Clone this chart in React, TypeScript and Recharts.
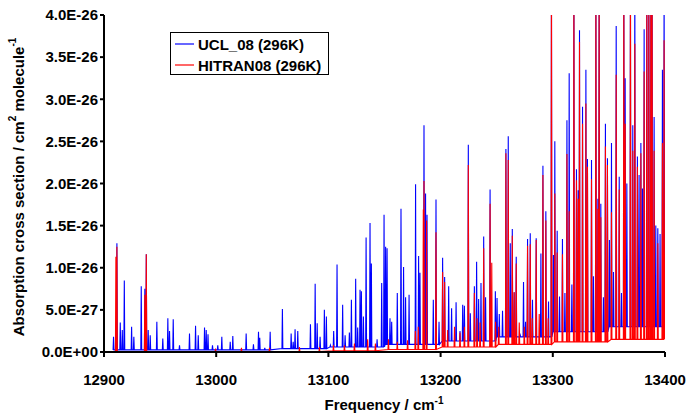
import { LineChart, Line, XAxis, YAxis, Label } from 'recharts';

const xTicks = [12900, 13000, 13100, 13200, 13300, 13400];
// y values are in units of 1E-27 cm^2 molecule^-1
const yTicks = [0, 5, 10, 15, 20, 25, 30, 35, 40];

const uclFreq = [
  12908.5, 12911.5, 12914.5, 12916.3, 12918.1, 12924.6, 12926.6, 12933.2, 12936.4, 12937.7,
  12939.4, 12941.2, 12947.1, 12952.4, 12956.9, 12958.4, 12961.7, 12967.3, 12976.2, 12981.6,
  12984.0, 12989.6, 12991.1, 12992.7, 12996.7, 13001.4, 13005.0, 13012.5, 13014.8, 13026.7,
  13033.2, 13037.7, 13038.8, 13043.3, 13048.1, 13059.0, 13066.8, 13068.6, 13070.3, 13072.7,
  13084.0, 13088.2, 13090.0, 13092.6, 13096.4, 13098.2, 13101.8, 13104.7, 13107.7, 13112.7,
  13114.9, 13118.7, 13120.5, 13124.3, 13126.1, 13128.2, 13129.4, 13131.2, 13133.6, 13137.1,
  13138.3, 13143.4, 13147.5, 13149.6, 13151.0, 13152.3, 13154.9, 13156.4, 13161.4, 13164.7,
  13167.0, 13168.8, 13171.9, 13177.7, 13180.4, 13181.6, 13185.2, 13186.6, 13187.9, 13193.5,
  13195.9, 13198.6, 13201.8, 13203.6, 13207.2, 13209.8, 13213.8, 13217.3, 13219.7, 13221.2,
  13224.7, 13226.5, 13230.1, 13232.1, 13233.9, 13236.0, 13238.4, 13240.1, 13244.1, 13248.8,
  13250.3, 13252.3, 13255.2, 13258.2, 13260.3, 13262.1, 13263.9, 13265.6, 13267.4, 13271.0,
  13273.9, 13275.7, 13277.5, 13279.9, 13281.9, 13285.2, 13289.4, 13291.2, 13293.8, 13296.2,
  13298.8, 13300.6, 13301.8, 13303.9, 13306.0, 13308.6, 13310.8, 13312.6, 13314.6, 13317.0,
  13318.8, 13321.1, 13322.6, 13323.8, 13326.5, 13329.5, 13330.9, 13334.5, 13336.2, 13338.4,
  13340.2, 13341.3, 13342.8, 13345.1, 13346.9, 13348.7, 13350.5, 13352.3, 13354.1, 13356.5,
  13359.2, 13361.2, 13363.3, 13364.5, 13366.0, 13369.2, 13371.3, 13373.1, 13375.4, 13376.9,
  13378.5, 13379.9, 13381.4, 13383.8, 13385.6, 13387.4, 13388.5, 13390.3, 13391.8, 13393.6,
  13395.6, 13397.7, 13399.2,
];
const uclPeak = [
  1.8, 12.9, 3.5, 2.6, 8.5, 3.0, 1.8, 7.8, 7.5, 11.6,
  2.6, 2.0, 3.6, 1.6, 4.0, 2.5, 3.9, 0.8, 2.2, 3.1,
  2.0, 2.9, 2.6, 2.1, 0.8, 0.8, 1.8, 1.2, 1.9, 2.2,
  0.9, 2.4, 1.7, 0.5, 2.4, 5.1, 2.2, 1.2, 2.7, 2.5,
  3.3, 8.1, 3.4, 1.8, 5.0, 4.2, 0.8, 2.5, 10.4, 5.6,
  2.0, 2.3, 6.2, 8.7, 2.9, 7.4, 7.2, 4.2, 13.6, 15.3,
  10.5, 1.5, 8.2, 16.3, 12.5, 12.3, 4.0, 3.6, 7.0, 17.0,
  10.1, 6.5, 6.8, 19.9, 11.4, 9.4, 26.9, 18.8, 16.3, 6.2,
  18.1, 3.6, 11.2, 8.9, 7.8, 5.2, 5.9, 2.5, 5.6, 5.5,
  24.6, 4.6, 7.8, 10.7, 6.3, 8.2, 13.7, 6.5, 19.3, 7.2,
  6.4, 4.5, 4.9, 24.1, 25.6, 12.9, 14.6, 7.1, 11.3, 2.0,
  8.3, 3.6, 13.4, 14.1, 6.2, 13.5, 11.7, 22.1, 16.7, 6.0,
  45, 11.5, 25.0, 14.4, 6.6, 13.4, 7.0, 27.5, 33.1, 8.0,
  45, 21.7, 19.2, 38.2, 29.1, 33.5, 22.9, 22.8, 9.0, 45,
  18.2, 45, 17.6, 6.5, 27.1, 23.0, 13.3, 24.8, 9.5, 38.7,
  20.8, 7.0, 45, 32.5, 20.0, 45, 26.9, 45, 23.2, 21.0,
  24.8, 19.4, 38.3, 45, 45, 45, 45, 27.9, 15.0, 14.7,
  14.0, 33.5, 45,
];
// baseline level between lines, read per region: [from frequency, level]
const uclFloorFrom = [12900, 13050, 13100, 13150, 13200, 13250, 13300, 13350];
const uclFloor = [0.25, 0.4, 0.6, 0.9, 1.3, 1.8, 2.4, 3.0];

const hitFreq = [
  12910.6, 12911.5, 12936.4, 12937.7, 12999.4, 13022.5, 13047.5, 13074.2, 13092.0, 13104.5,
  13114.3, 13123.2, 13135.0, 13141.9, 13153.5, 13161.4, 13170.6, 13177.5, 13180.1, 13184.6,
  13185.2, 13187.5, 13195.9, 13201.8, 13203.6, 13206.3, 13212.4, 13217.3, 13221.2, 13224.7,
  13230.1, 13232.5, 13235.2, 13238.4, 13244.1, 13245.6, 13249.0, 13251.8, 13258.2, 13260.3,
  13263.9, 13265.6, 13267.4, 13270.1, 13274.6, 13277.5, 13279.9, 13281.7, 13285.2, 13287.9,
  13291.2, 13293.8, 13295.9, 13298.8, 13301.8, 13303.9, 13308.6, 13312.6, 13314.6, 13318.8,
  13321.1, 13322.6, 13323.8, 13326.5, 13329.5, 13330.9, 13334.5, 13338.4, 13340.2, 13341.3,
  13342.8, 13346.9, 13348.7, 13352.3, 13356.5, 13359.2, 13363.3, 13364.5, 13369.2, 13371.3,
  13373.1, 13375.4, 13378.5, 13381.4, 13383.8, 13385.6, 13387.4, 13388.5, 13390.3, 13393.6,
  13397.7, 13399.2,
];
const hitPeak = [
  11.3, 12.5, 6.8, 11.6, 0.4, 0.5, 0.5, 0.6, 0.6, 0.8,
  0.8, 1.0, 1.5, 1.0, 1.5, 1.2, 1.4, 2.5, 3.0, 16.9,
  20.3, 15.6, 14.2, 9.5, 8.3, 2.6, 3.0, 2.3, 3.0, 22.2,
  7.0, 4.0, 3.5, 12.3, 17.6, 10.6, 3.6, 3.0, 23.6, 22.8,
  13.8, 7.1, 10.5, 3.5, 3.0, 12.6, 12.8, 4.0, 13.3, 4.5,
  21.0, 15.6, 4.0, 45, 18.8, 11.8, 11.6, 23.5, 16.7, 45,
  20.4, 18.2, 36.8, 27.1, 29.5, 22.0, 20.5, 45, 17.0, 45,
  16.0, 24.4, 22.2, 16.6, 32.9, 19.3, 45, 27.1, 45, 23.9,
  36.6, 22.0, 23.6, 33.3, 45, 45, 45, 45, 23.9, 12.9,
  24.8, 37.0,
];
const hitFloorFrom = [12900, 13100, 13150, 13200, 13250, 13300, 13350];
const hitFloor = [0.05, 0.15, 0.3, 0.6, 0.9, 1.2, 1.5];

const HALF_WIDTH = 0.4;

function floorAt(f: number, from: number[], vals: number[]) {
  let v = vals[0];
  for (let i = 0; i < from.length; i++) if (f >= from[i]) v = vals[i];
  return v;
}

function spikes(freq: number[], peak: number[], from: number[], floors: number[]) {
  const pts: { f: number; v: number }[] = [];
  freq.forEach((f, i) => {
    const b = floorAt(f, from, floors);
    pts.push({ f: f - HALF_WIDTH, v: b }, { f, v: peak[i] }, { f: f + HALF_WIDTH, v: b });
  });
  return pts.sort((a, b) => a.f - b.f);
}

const uclData = spikes(uclFreq, uclPeak, uclFloorFrom, uclFloor);
const hitData = spikes(hitFreq, hitPeak, hitFloorFrom, hitFloor);

const font = '"Liberation Sans", Arial, sans-serif';

function fmtY(v: number) {
  if (v === 0) return '0.0E+00';
  if (v < 10) return `${v.toFixed(1)}E-27`;
  return `${(v / 10).toFixed(1)}E-26`;
}

const tickStyle = { fontSize: 15, fontWeight: 700, fill: '#000', fontFamily: font };

const legendItems = [
  { name: 'UCL_08 (296K)', color: '#0000FF' },
  { name: 'HITRAN08 (296K)', color: '#FF0000' },
];

export default function App() {
  return (
    <div style={{ position: 'absolute', left: 0, top: 0, width: 689, height: 415, background: '#fff' }}>
      <LineChart width={689} height={415} margin={{ top: 15, right: 24, bottom: 0, left: 0 }}>
        <XAxis
          dataKey="f"
          type="number"
          domain={[12900, 13400]}
          ticks={xTicks}
          allowDataOverflow
          height={63}
          tick={tickStyle}
          tickSize={5}
          tickMargin={17}
          axisLine={{ stroke: '#000', strokeWidth: 2 }}
          tickLine={{ stroke: '#000', strokeWidth: 2 }}
        >
          <Label
            content={() => (
              <text x={384} y={410} textAnchor="middle" fontFamily={font} fontWeight={700} fontSize={15} fill="#000">
                Frequency / cm<tspan dy={-6} fontSize={10}>-1</tspan>
              </text>
            )}
          />
        </XAxis>
        <XAxis xAxisId="top" orientation="top" type="number" domain={[12900, 13400]} height={0} tick={false} tickLine={false} axisLine={{ stroke: '#333', strokeWidth: 1.5 }} />
        <YAxis
          type="number"
          domain={[0, 40]}
          ticks={yTicks}
          allowDataOverflow
          width={104}
          tick={tickStyle}
          tickFormatter={fmtY}
          tickSize={4}
          tickMargin={2}
          axisLine={{ stroke: '#000', strokeWidth: 2 }}
          tickLine={{ stroke: '#000', strokeWidth: 2 }}
        >
          <Label
            content={() => (
              <text
                x={18}
                y={187}
                transform="rotate(-90, 18, 187)"
                textAnchor="middle"
                dominantBaseline="central"
                fontFamily={font}
                fontWeight={700}
                fontSize={15}
                fill="#000"
              >
                Absorption cross section / cm<tspan dy={-6} fontSize={10}>2</tspan>
                <tspan dy={6}> molecule</tspan>
                <tspan dy={-6} fontSize={10}>-1</tspan>
              </text>
            )}
          />
        </YAxis>
        <YAxis yAxisId="right" orientation="right" domain={[0, 40]} width={0} tick={false} tickLine={false} axisLine={{ stroke: '#000', strokeWidth: 1.5 }} />
        <Line data={uclData} dataKey="v" type="linear" stroke="#0000FF" strokeWidth={1.1} dot={false} isAnimationActive={false} />
        <Line data={hitData} dataKey="v" type="linear" stroke="#FF0000" strokeWidth={1.1} dot={false} isAnimationActive={false} />
      </LineChart>
      <div
        style={{
          position: 'absolute',
          left: 170,
          top: 32,
          width: 159,
          height: 43,
          border: '1px solid #000',
          background: '#fff',
          fontFamily: font,
          fontWeight: 700,
          fontSize: 15,
          boxSizing: 'border-box',
        }}
      >
        {legendItems.map((it, i) => (
          <div key={it.name} style={{ position: 'absolute', left: 4, top: 2 + i * 21, height: 18, display: 'flex', alignItems: 'center', whiteSpace: 'nowrap' }}>
            <svg width={19} height={4} style={{ marginRight: 4 }}>
              <line x1={0} y1={2} x2={19} y2={2} stroke={it.color} strokeWidth={1.2} />
            </svg>
            {it.name}
          </div>
        ))}
      </div>
    </div>
  );
}
